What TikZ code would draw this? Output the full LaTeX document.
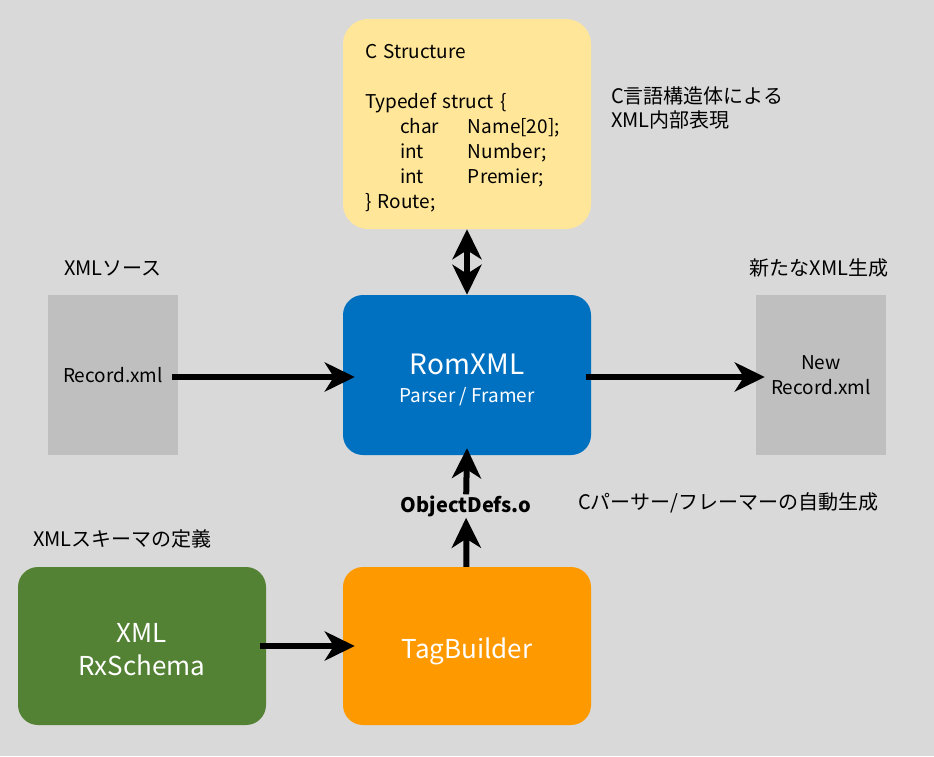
\documentclass[tikz,border=0pt]{standalone}
\usepackage{fontspec}
\setmainfont{Noto Sans CJK JP}
\usepackage{xcolor}
\usepackage{tikz}
\usetikzlibrary{arrows.meta}

\definecolor{bggray}{HTML}{D9D9D9}
\definecolor{filegray}{HTML}{BFBFBF}
\definecolor{structyellow}{HTML}{FFE699}
\definecolor{romblue}{HTML}{0070C0}
\definecolor{taggreen}{HTML}{548235}
\definecolor{tagorange}{HTML}{FF9900}
\newcommand{\member}[2]{\hspace*{35pt}\makebox[68pt][l]{#1}#2}

\begin{document}
\begin{tikzpicture}[x=1pt,y=-1pt,
  block/.style={rectangle,rounded corners=20pt,minimum width=248pt,
    minimum height=160pt,inner sep=0pt,align=center,text=white,
    font=\fontsize{26}{32}\selectfont},
  file/.style={rectangle,fill=filegray,minimum width=130pt,
    minimum height=160pt,inner sep=0pt,align=center,
    font=\fontsize{19}{25}\selectfont},
  note/.style={align=left,inner sep=0pt,font=\fontsize{20}{24}\selectfont},
  flow/.style={line width=6pt,-{Stealth[length=30pt,width=29pt,inset=9pt]}},
  both/.style={line width=6pt,{Stealth[length=30pt,width=29pt,inset=9pt]}-{Stealth[length=30pt,width=29pt,inset=9pt]}}]
  \fill[bggray] (0,0) rectangle (934,756);

  \node[block,fill=structyellow,text=black,minimum height=210pt,
    rounded corners=25pt,text width=204pt,inner xsep=22pt,align=left,
    font=\fontsize{19}{25}\selectfont] (cstruct) at (467,124)
    {\rule{0pt}{22pt}C Structure\\[25pt]
     Typedef struct \{\\
     \member{char}{Name[20];}\\
     \member{int}{Number;}\\
     \member{int}{Premier;}\\
     \} Route;};
  \node[block,fill=romblue] (rom) at (467,375)
    {\rule{0pt}{30pt}{\fontsize{28}{34}\selectfont RomXML}\\[-4pt]{\fontsize{19}{24}\selectfont Parser / Framer}};
  \node[block,fill=taggreen,minimum height=158pt] (schema) at (142,646)
    {\rule{0pt}{26pt}XML\\[1pt]RxSchema};
  \node[block,fill=tagorange,minimum height=158pt] (tag) at (467,646)
    {\rule{0pt}{31pt}TagBuilder};
  \node[file] (rec) at (113,375) {Record.xml};
  \node[file] (newrec) at (821,375) {New\\Record.xml};

  \node[note] (reclbl) at (113,268) {XMLソース};
  \node[note] (newlbl) at (819,268) {新たなXML生成};
  \node[note,anchor=west] (structlbl) at (611,108) {C言語構造体による\\XML内部表現};
  \node[note,anchor=west] (genlbl) at (578,503) {Cパーサー/フレーマーの自動生成};
  \node[note,anchor=west] (schemalbl) at (33,539) {XMLスキーマの定義};
  \node[font=\fontsize{20}{24}\selectfont\bfseries,inner sep=1pt] (objdefs) at (466,506) {ObjectDefs.o};

  \draw[both] (cstruct) -- (rom);
  \draw[flow] ([xshift=-6pt,yshift=-2pt]rec.east) -- ([xshift=12pt,yshift=-2pt]rom.west);
  \draw[flow] ([xshift=-5pt,yshift=-2pt]rom.east) -- ([xshift=9pt,yshift=-2pt]newrec.west);
  \draw[flow] (objdefs) -- ([yshift=7pt]rom.south);
  \draw[flow] (tag) -- (objdefs);
  \draw[flow] ([xshift=-6pt]schema.east) -- ([xshift=12pt]tag.west);
\end{tikzpicture}
\end{document}
